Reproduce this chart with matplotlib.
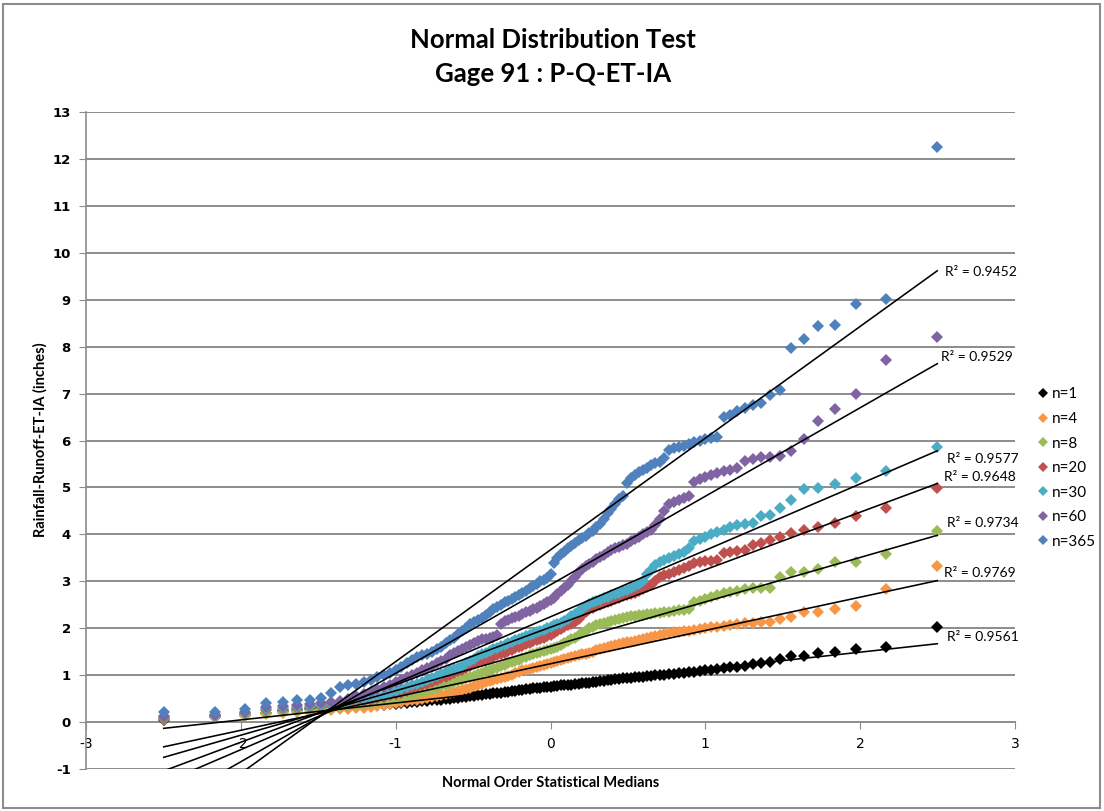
import numpy as np
import matplotlib
matplotlib.use("Agg")
import matplotlib.pyplot as plt
from matplotlib.patches import Rectangle

# ---------------- data ----------------
# normal order statistic medians (upper half, mirrored for the lower half)
x_upper = [0.000, 0.022, 0.045, 0.067, 0.090, 0.113, 0.135, 0.158, 0.181, 0.204,
           0.227, 0.250, 0.274, 0.297, 0.321, 0.345, 0.369, 0.393, 0.418, 0.442,
           0.467, 0.492, 0.517, 0.543, 0.569, 0.596, 0.623, 0.650, 0.678, 0.707,
           0.736, 0.766, 0.796, 0.828, 0.860, 0.893, 0.927, 0.963, 0.999, 1.037,
           1.077, 1.118, 1.161, 1.206, 1.254, 1.305, 1.360, 1.419, 1.483, 1.555,
           1.635, 1.727, 1.838, 1.976, 2.167, 2.498]
x_vals = [-v for v in x_upper[:0:-1]] + x_upper

y_n1 = [0.05, 0.10, 0.15, 0.20, 0.23, 0.25, 0.27, 0.29, 0.30, 0.31,
        0.32, 0.33, 0.34, 0.35, 0.36, 0.37, 0.38, 0.39, 0.40, 0.41,
        0.42, 0.43, 0.44, 0.45, 0.46, 0.47, 0.48, 0.49, 0.50, 0.51,
        0.52, 0.53, 0.54, 0.55, 0.56, 0.57, 0.58, 0.59, 0.60, 0.61,
        0.62, 0.63, 0.64, 0.65, 0.66, 0.67, 0.68, 0.69, 0.70, 0.71,
        0.72, 0.72, 0.73, 0.74, 0.75,
        0.75, 0.76, 0.77, 0.78, 0.78, 0.79, 0.80, 0.81, 0.82, 0.83,
        0.84, 0.84, 0.85, 0.86, 0.87, 0.88, 0.89, 0.90, 0.91, 0.92,
        0.93, 0.94, 0.94, 0.95, 0.96, 0.97, 0.98, 0.99, 1.00, 1.00,
        1.01, 1.02, 1.03, 1.04, 1.05, 1.06, 1.07, 1.08, 1.10, 1.12,
        1.14, 1.16, 1.17, 1.18, 1.20, 1.24, 1.26, 1.28, 1.34, 1.41,
        1.41, 1.47, 1.50, 1.55, 1.60, 2.02]

y_n4 = [0.06, 0.10, 0.14, 0.17, 0.19, 0.21, 0.22, 0.24, 0.25, 0.27,
        0.28, 0.30, 0.31, 0.33, 0.35, 0.36, 0.38, 0.40, 0.42, 0.44,
        0.46, 0.48, 0.50, 0.52, 0.54, 0.56, 0.58, 0.60, 0.62, 0.64,
        0.66, 0.68, 0.70, 0.73, 0.76, 0.79, 0.82, 0.85, 0.87, 0.89,
        0.91, 0.93, 0.95, 0.98, 1.01, 1.04, 1.07, 1.10, 1.12, 1.14,
        1.16, 1.18, 1.20, 1.22, 1.24,
        1.26, 1.28, 1.30, 1.32, 1.34, 1.36, 1.38, 1.40, 1.42, 1.44,
        1.46, 1.48, 1.50, 1.53, 1.56, 1.58, 1.60, 1.62, 1.64, 1.66,
        1.68, 1.70, 1.71, 1.73, 1.75, 1.77, 1.79, 1.81, 1.83, 1.85,
        1.87, 1.89, 1.91, 1.92, 1.93, 1.94, 1.96, 1.98, 2.00, 2.02,
        2.03, 2.05, 2.07, 2.09, 2.11, 2.12, 2.13, 2.13, 2.20, 2.24,
        2.35, 2.35, 2.41, 2.47, 2.84, 3.33]

y_n8 = [0.07, 0.12, 0.16, 0.20, 0.22, 0.24, 0.26, 0.28, 0.30, 0.32,
        0.34, 0.36, 0.38, 0.40, 0.42, 0.44, 0.46, 0.49, 0.52, 0.55,
        0.58, 0.61, 0.64, 0.67, 0.70, 0.73, 0.76, 0.79, 0.82, 0.85,
        0.88, 0.90, 0.93, 0.96, 0.99, 1.02, 1.05, 1.08, 1.10, 1.13,
        1.16, 1.19, 1.22, 1.25, 1.28, 1.30, 1.33, 1.36, 1.39, 1.42,
        1.44, 1.47, 1.49, 1.51, 1.53,
        1.55, 1.58, 1.61, 1.64, 1.68, 1.72, 1.76, 1.80, 1.85, 1.90,
        1.95, 2.00, 2.03, 2.06, 2.09, 2.12, 2.14, 2.16, 2.18, 2.20,
        2.22, 2.24, 2.25, 2.27, 2.28, 2.29, 2.30, 2.31, 2.32, 2.33,
        2.34, 2.35, 2.36, 2.38, 2.39, 2.40, 2.55, 2.58, 2.62, 2.66,
        2.70, 2.74, 2.77, 2.80, 2.84, 2.85, 2.85, 2.86, 3.10, 3.20,
        3.20, 3.26, 3.41, 3.42, 3.58, 4.08]

y_n20 = [0.08, 0.15, 0.20, 0.26, 0.28, 0.30, 0.32, 0.34, 0.36, 0.38,
         0.40, 0.42, 0.45, 0.48, 0.51, 0.54, 0.57, 0.60, 0.63, 0.66,
         0.70, 0.74, 0.78, 0.82, 0.86, 0.90, 0.93, 0.96, 1.00, 1.04,
         1.08, 1.12, 1.16, 1.20, 1.24, 1.27, 1.30, 1.33, 1.36, 1.39,
         1.42, 1.45, 1.48, 1.51, 1.54, 1.57, 1.60, 1.63, 1.66, 1.69,
         1.72, 1.75, 1.78, 1.80, 1.83,
         1.86, 1.90, 1.94, 1.98, 2.02, 2.06, 2.10, 2.14, 2.20, 2.28,
         2.35, 2.40, 2.44, 2.47, 2.50, 2.53, 2.56, 2.59, 2.62, 2.65,
         2.68, 2.70, 2.73, 2.76, 2.80, 2.84, 2.88, 2.92, 3.00, 3.10,
         3.13, 3.16, 3.20, 3.24, 3.28, 3.32, 3.38, 3.41, 3.43, 3.44,
         3.45, 3.60, 3.62, 3.65, 3.67, 3.77, 3.81, 3.88, 3.95, 4.03,
         4.09, 4.16, 4.24, 4.39, 4.56, 4.99]

y_n30 = [0.10, 0.13, 0.20, 0.27, 0.30, 0.32, 0.34, 0.36, 0.38, 0.40,
         0.43, 0.46, 0.49, 0.52, 0.55, 0.58, 0.62, 0.66, 0.70, 0.74,
         0.78, 0.82, 0.86, 0.90, 0.94, 0.98, 1.02, 1.06, 1.10, 1.13,
         1.16, 1.20, 1.25, 1.30, 1.35, 1.40, 1.44, 1.48, 1.52, 1.55,
         1.58, 1.62, 1.65, 1.68, 1.71, 1.74, 1.77, 1.80, 1.83, 1.86,
         1.88, 1.91, 1.94, 1.97, 2.00,
         2.03, 2.06, 2.09, 2.12, 2.16, 2.20, 2.25, 2.30, 2.36, 2.42,
         2.48, 2.52, 2.55, 2.58, 2.61, 2.64, 2.67, 2.70, 2.73, 2.76,
         2.79, 2.82, 2.86, 2.90, 2.94, 3.00, 3.15, 3.25, 3.35, 3.42,
         3.46, 3.50, 3.54, 3.58, 3.62, 3.70, 3.85, 3.90, 3.95, 4.00,
         4.05, 4.10, 4.16, 4.20, 4.22, 4.24, 4.40, 4.41, 4.56, 4.73,
         4.97, 4.99, 5.07, 5.20, 5.35, 5.87]

y_n60 = [0.12, 0.15, 0.22, 0.32, 0.34, 0.37, 0.38, 0.40, 0.42, 0.45,
         0.50, 0.55, 0.60, 0.65, 0.70, 0.75, 0.80, 0.85, 0.90, 0.95,
         1.00, 1.05, 1.10, 1.15, 1.20, 1.25, 1.30, 1.35, 1.42, 1.48,
         1.52, 1.56, 1.60, 1.64, 1.68, 1.72, 1.76, 1.78, 1.80, 1.82,
         1.85, 2.10, 2.15, 2.18, 2.21, 2.24, 2.27, 2.30, 2.34, 2.37,
         2.40, 2.44, 2.48, 2.52, 2.56,
         2.60, 2.65, 2.72, 2.80, 2.86, 2.92, 3.00, 3.10, 3.20, 3.27,
         3.32, 3.37, 3.42, 3.47, 3.52, 3.57, 3.62, 3.67, 3.70, 3.74,
         3.77, 3.80, 3.85, 3.90, 3.95, 4.00, 4.05, 4.10, 4.20, 4.32,
         4.50, 4.65, 4.70, 4.74, 4.78, 4.82, 5.12, 5.18, 5.22, 5.26,
         5.30, 5.34, 5.38, 5.42, 5.56, 5.60, 5.64, 5.65, 5.67, 5.78,
         6.03, 6.42, 6.67, 6.99, 7.72, 8.21]

y_n365 = [0.22, 0.21, 0.28, 0.40, 0.43, 0.46, 0.48, 0.52, 0.62, 0.74,
          0.78, 0.82, 0.86, 0.90, 0.95, 1.00, 1.05, 1.10, 1.18, 1.25,
          1.32, 1.38, 1.42, 1.46, 1.50, 1.55, 1.60, 1.68, 1.75, 1.80,
          1.87, 1.93, 2.00, 2.08, 2.13, 2.17, 2.22, 2.28, 2.35, 2.40,
          2.45, 2.50, 2.55, 2.58, 2.62, 2.66, 2.70, 2.75, 2.80, 2.85,
          2.90, 2.95, 3.00, 3.03, 3.08,
          3.15, 3.40, 3.50, 3.58, 3.62, 3.70, 3.75, 3.82, 3.88, 3.93,
          3.97, 4.02, 4.08, 4.15, 4.22, 4.33, 4.45, 4.55, 4.65, 4.75,
          4.82, 5.10, 5.20, 5.27, 5.32, 5.37, 5.42, 5.47, 5.52, 5.55,
          5.62, 5.80, 5.83, 5.86, 5.88, 5.92, 5.96, 6.00, 6.03, 6.05,
          6.07, 6.50, 6.55, 6.62, 6.70, 6.75, 6.80, 6.98, 7.07, 7.97,
          8.17, 8.44, 8.47, 8.90, 9.02, 12.26]

series_labels = ["n=1", "n=4", "n=8", "n=20", "n=30", "n=60", "n=365"]
series_values = [y_n1, y_n4, y_n8, y_n20, y_n30, y_n60, y_n365]
r2_labels = ["R² = 0.9561", "R² = 0.9769", "R² = 0.9734", "R² = 0.9648",
             "R² = 0.9577", "R² = 0.9529", "R² = 0.9452"]

title_text = "Normal Distribution Test\nGage 91 : P-Q-ET-IA"
x_label = "Normal Order Statistical Medians"
y_label = "Rainfall-Runoff-ET-IA (inches)"
x_ticks = [-3, -2, -1, 0, 1, 2, 3]
y_ticks = list(range(-1, 14))

# ---------------- style ----------------
colors = ["#000000", "#F79646", "#9BBB59", "#C0504D", "#4BACC6", "#8064A2", "#4F81BD"]
# label anchor positions (data coords) for R² texts
r2_pos = [(2.56, 1.81), (2.54, 3.18), (2.56, 4.24), (2.54, 5.22),
          (2.56, 5.61), (2.52, 7.78), (2.545, 9.59)]
FONT = "Lato"
grid_col = "#8C8C8C"

fig = plt.figure(figsize=(11.04, 8.11), dpi=100)
fig.patch.set_facecolor("white")
ax = fig.add_axes([86 / 1104, 1 - 769 / 811, (1015 - 86) / 1104, (769 - 112) / 811])

xs = np.array(x_vals)
handles = []
for i, (lab, ys, col) in enumerate(zip(series_labels, series_values, colors)):
    ys = np.array(ys)
    h, = ax.plot(xs, ys, linestyle="none", marker="D", ms=6.6, mfc=col, mec=col,
                 mew=0, zorder=3 + i, label=lab)
    handles.append(h)
    slope, inter = np.polyfit(xs, ys, 1)
    xl = np.array([xs.min(), xs.max()])
    ax.plot(xl, slope * xl + inter, color="black", lw=1.15, zorder=20)
    ax.text(r2_pos[i][0], r2_pos[i][1], r2_labels[i], fontsize=10, family=FONT,
            ha="left", va="center", zorder=21, clip_on=False)

ax.set_xlim(-3, 3)
ax.set_ylim(-1, 13)
ax.set_xticks(x_ticks)
ax.set_yticks(y_ticks)
ax.set_yticklabels([str(v) for v in y_ticks], fontsize=9.5, fontweight="bold",
                   family="DejaVu Sans")
ax.set_xticklabels([str(v) for v in x_ticks], fontsize=11.5, family=FONT)
for yv in y_ticks:
    if yv != 0:
        ax.axhline(yv, color=grid_col, lw=1.4, zorder=1)

ax.spines["top"].set_visible(False)
ax.spines["right"].set_visible(False)
ax.spines["left"].set_color(grid_col)
ax.spines["left"].set_linewidth(1.2)
ax.spines["bottom"].set_position(("data", 0))
ax.spines["bottom"].set_color(grid_col)
ax.spines["bottom"].set_linewidth(1.4)
ax.spines["bottom"].set_zorder(1)
ax.tick_params(axis="y", direction="out", length=5, color=grid_col, pad=6)
ax.tick_params(axis="x", direction="out", length=5, color=grid_col, pad=6)

fig.text(0.5 * (86 + 1015) / 1104, 1 - 783 / 811, x_label, ha="center", va="center",
         fontsize=10.5, fontweight="bold", family=FONT)
fig.text(40 / 1104, 1 - 440 / 811, y_label, ha="center", va="center", rotation=90,
         fontsize=10.5, fontweight="bold", family=FONT)
fig.text(553 / 1104, 1 - 57 / 811, title_text, ha="center", va="center",
         fontsize=18.5, fontweight="bold", family=FONT, linespacing=1.45)

leg = ax.legend(handles=handles, loc="center left", bbox_to_anchor=(1.01, 0.458),
                frameon=False, prop={"family": FONT, "size": 11}, handlelength=0.6,
                handletextpad=0.3, labelspacing=0.69, markerscale=0.8)

fig.add_artist(Rectangle((3 / 1104, 3 / 811), 1097 / 1104, 804 / 811, transform=fig.transFigure,
                         fill=False, edgecolor="#8C8C8C", lw=1.5))

fig.savefig("out.png", dpi=100, facecolor="white")
